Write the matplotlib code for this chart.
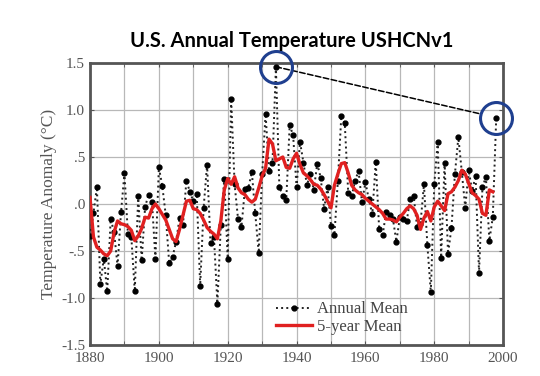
import matplotlib
matplotlib.use("Agg")
import matplotlib.pyplot as plt
import numpy as np

# years and annual anomalies
years = np.arange(1880, 1999)
annual = [
    -0.34, -0.10, 0.18, -0.85, -0.58, -0.93, -0.16, -0.30, -0.66, -0.09,
    0.33, -0.32, -0.35, -0.93, 0.09, -0.60, -0.03, 0.10, 0.02, -0.58,
    0.39, 0.19, -0.12, -0.63, -0.56, -0.40, -0.15, -0.22, 0.25, 0.13,
    0.03, 0.11, -0.87, -0.04, 0.42, -0.42, -0.35, -1.06, -0.22, 0.27,
    -0.58, 1.12, 0.21, -0.16, -0.24, 0.16, 0.17, 0.34, -0.10, -0.52,
    0.32, 0.96, 0.35, 0.44, 1.46, 0.18, 0.09, 0.04, 0.84, 0.73,
    0.18, 0.66, 0.44, 0.20, 0.32, 0.15, 0.43, 0.28, -0.05, 0.18,
    -0.23, -0.33, 0.25, 0.94, 0.86, 0.12, 0.08, 0.25, 0.35, 0.02,
    0.23, 0.05, -0.11, 0.45, -0.27, -0.33, -0.09, -0.12, -0.16, -0.40,
    -0.14, -0.16, -0.18, 0.05, 0.09, -0.24, -0.21, 0.21, -0.44, -0.94,
    0.21, 0.66, -0.57, 0.44, -0.53, -0.25, 0.32, 0.71, 0.34, -0.04,
    0.36, 0.14, 0.30, -0.73, 0.18, 0.29, -0.39, -0.14, 0.92,
]

# 5-year mean (red curve), also, ends in 1997
mean_years = np.arange(1880, 1998)
mean5 = [
    0.07, -0.35, -0.46, -0.49, -0.53, -0.55, -0.50, -0.30, -0.18, -0.21,
    -0.22, -0.24, -0.28, -0.39, -0.34, -0.26, -0.14, -0.15, -0.05, 0.00,
    -0.05, -0.11, -0.17, -0.27, -0.37, -0.40, -0.27, -0.12, 0.03, 0.04,
    -0.05, -0.06, -0.10, -0.17, -0.25, -0.29, -0.32, -0.37, -0.18, 0.15,
    0.27, 0.21, 0.29, 0.17, 0.12, 0.10, 0.05, 0.02, 0.05, 0.17,
    0.30, 0.38, 0.69, 0.64, 0.46, 0.48, 0.50, 0.39, 0.38, 0.48,
    0.54, 0.42, 0.33, 0.30, 0.26, 0.21, 0.20, 0.16, 0.10, 0.03,
    -0.04, 0.20, 0.32, 0.43, 0.44, 0.33, 0.20, 0.15, 0.12, 0.10,
    0.06, 0.03, 0.00, -0.03, -0.06, -0.10, -0.16, -0.16, -0.17, -0.19,
    -0.14, -0.10, -0.05, -0.02, -0.05, -0.12, -0.27, -0.15, -0.08, -0.18,
    -0.03, 0.03, -0.02, -0.07, 0.11, 0.13, 0.18, 0.25, 0.36, 0.32,
    0.22, 0.12, 0.09, 0.05, -0.10, -0.12, 0.15, 0.13,
]

yticks = [1.5, 1.0, 0.5, 0.0, -0.5, -1.0, -1.5]
ytick_labels = ["1.5", "1.0", ".5", ".0", "-.5", "-1.0", "-1.5"]
xticks = [1880, 1900, 1920, 1940, 1960, 1980, 2000]

annual = np.array(annual)
peak_i = int(np.argmax(annual))
last_i = len(annual) - 1

serif = ["Liberation Serif", "DejaVu Serif"]
fig = plt.figure(figsize=(5.4, 3.76), dpi=100)
ax = fig.add_axes([0.1667, 0.0824, 0.765, 0.75])

ax.plot(years, annual, linestyle=":", color="#222222", linewidth=1.4,
        marker="o", markersize=3.5, markerfacecolor="black",
        markeredgecolor="black", label="Annual Mean", zorder=3)
ax.plot(mean_years, mean5, color="#e02020", linewidth=2.4,
        label="5-year Mean", zorder=4)

# dashed line from 1934 peak to 1998
ax.annotate("", xy=(years[last_i], annual[last_i]),
            xytext=(years[peak_i], annual[peak_i]),
            arrowprops=dict(arrowstyle="-", linestyle="--", color="black",
                            linewidth=1.1, shrinkA=0, shrinkB=12),
            zorder=5)
for i in (peak_i, last_i):
    ax.plot(years[i], annual[i], marker="o", markersize=23, mfc="none",
            mec="#1f3f8f", mew=2.2, clip_on=False, zorder=6)

ax.set_xlim(1880, 2000)
ax.set_ylim(-1.5, 1.5)
ax.set_xticks(xticks)
ax.set_xticks(np.arange(1890, 2000, 20), minor=True)
ax.set_yticks(yticks)
ax.set_yticklabels(ytick_labels)
ax.grid(True, which="both", color="#b8b8b8", linewidth=0.9)
ax.set_axisbelow(True)
ax.tick_params(which="both", direction="in", top=True, right=True,
               length=3, color="#555555", labelcolor="#555555", labelsize=11)
ax.tick_params(axis="x", pad=5)
for lab in ax.get_xticklabels() + ax.get_yticklabels():
    lab.set_family(serif)
for s in ax.spines.values():
    s.set_color("#555555")
    s.set_linewidth(2)

ax.set_ylabel("Temperature Anomaly (\u00b0C)", family=serif, fontsize=12.5,
              color="#555555", labelpad=3)

leg = ax.legend(loc="lower center", bbox_to_anchor=(0.61, 0.0), frameon=False,
                prop={"family": serif, "size": 12}, handlelength=2.2,
                handletextpad=0.3, labelspacing=0.1, borderaxespad=0.2)
for t in leg.get_texts():
    t.set_color("#444444")

fig.text(0.54, 0.89, "U.S. Annual Temperature USHCNv1", ha="center",
         va="center", fontsize=14.5, fontweight="bold", family=["Lato", "DejaVu Sans"])

fig.savefig("out.png", dpi=100)
